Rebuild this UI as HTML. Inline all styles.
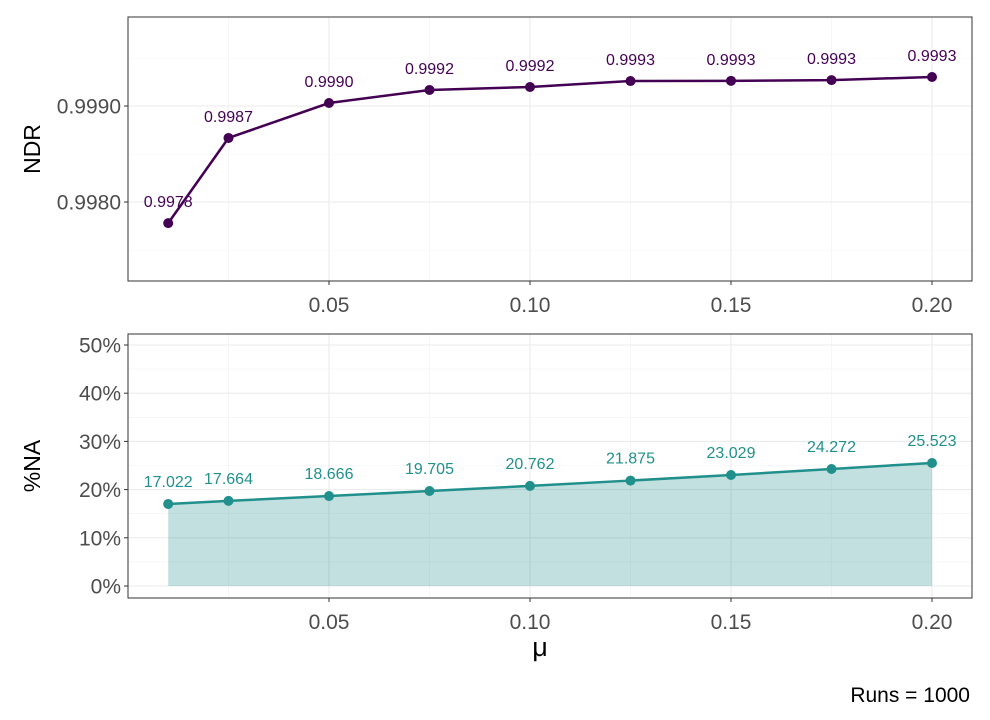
<!DOCTYPE html>
<html><head><meta charset="utf-8"><style>
body{margin:0;background:#fff;font-family:"Liberation Sans",sans-serif}
</style></head><body>
<svg width="990" height="715" xmlns="http://www.w3.org/2000/svg" font-family="Liberation Sans, sans-serif">
<g id="top"></g>
<g id="bot"></g>
<text x="540" y="656" font-size="27" text-anchor="middle">μ</text>
<text x="970" y="702" font-size="21" text-anchor="end">Runs = 1000</text>
</svg>
<script>
const mu=[0.01,0.025,0.05,0.075,0.10,0.125,0.15,0.175,0.20];
const ndr=[0.99778,0.998667,0.999031,0.999167,0.999198,0.999260,0.999262,0.999270,0.999302];
const ndrLabels=["0.9978","0.9987","0.9990","0.9992","0.9992","0.9993","0.9993","0.9993","0.9993"];
const naPct=[17.022,17.664,18.666,19.705,20.762,21.875,23.029,24.272,25.523];
const xTicks=[0.05,0.10,0.15,0.20];
const xTickLabels=["0.05","0.10","0.15","0.20"];
const ndrTicks=[0.998,0.999];
const ndrTickLabels=["0.9980","0.9990"];
const naTicks=[0,10,20,30,40,50];
const NS="http://www.w3.org/2000/svg";
const X=v=>128+v*4020;
function mk(p,t,a){const e=document.createElementNS(NS,t);for(const k in a)e.setAttribute(k,a[k]);p.appendChild(e);return e;}
function panel(g,top,Y,yt,ytl,yMinor,title,col,vals,labels,area){
  const L=128,R=972,T=top,B=top+264;
  [0.025,0.075,0.125,0.175].forEach(v=>mk(g,'line',{x1:X(v),x2:X(v),y1:T,y2:B,stroke:'#f2f2f2','stroke-width':0.6}));
  yMinor.forEach(v=>mk(g,'line',{x1:L,x2:R,y1:Y(v),y2:Y(v),stroke:'#f2f2f2','stroke-width':0.6}));
  xTicks.forEach((v,i)=>{mk(g,'line',{x1:X(v),x2:X(v),y1:T,y2:B,stroke:'#ebebeb','stroke-width':1.1});
    mk(g,'line',{x1:X(v),x2:X(v),y1:B,y2:B+4,stroke:'#333'});
    const t=mk(g,'text',{x:X(v),y:B+31,'font-size':21,fill:'#4d4d4d','text-anchor':'middle'});t.textContent=xTickLabels[i];
    });
  yt.forEach((v,i)=>{mk(g,'line',{x1:L,x2:R,y1:Y(v),y2:Y(v),stroke:'#ebebeb','stroke-width':1.1});
    mk(g,'line',{x1:L-4,x2:L,y1:Y(v),y2:Y(v),stroke:'#333'});
    const t=mk(g,'text',{x:L-7,y:Y(v)+7.5,'font-size':21,fill:'#4d4d4d','text-anchor':'end'});t.textContent=ytl[i];
    });
  if(area){let d='M'+X(mu[0])+','+Y(0);mu.forEach((m,i)=>d+='L'+X(m)+','+Y(vals[i]));d+='L'+X(mu[mu.length-1])+','+Y(0)+'Z';
    const a=mk(g,'path',{d:d,fill:col,'fill-opacity':0.28});}
  const pl=mk(g,'polyline',{points:mu.map((m,i)=>X(m)+','+Y(vals[i])).join(' '),fill:'none',stroke:col,'stroke-width':2.5});
  
  mu.forEach((m,i)=>{const c=mk(g,'circle',{cx:X(m),cy:Y(vals[i]),r:5,fill:col});
    
    const t=mk(g,'text',{x:X(m),y:Y(vals[i])-(area?17:16),'font-size':16,fill:col,'text-anchor':'middle'});t.textContent=labels[i];
    });
  mk(g,'rect',{x:L,y:T,width:R-L,height:B-T,fill:'none',stroke:'#333','stroke-width':1});
  const tt=mk(g,'text',{x:0,y:0,'font-size':23,'text-anchor':'middle',transform:`translate(40,${(T+B)/2}) rotate(-90)`});tt.textContent=title;
  
}
const Yt=v=>106-(v-0.999)*96000;
panel(document.getElementById('top'),17,Yt,ndrTicks,ndrTickLabels,[0.9975,0.9985,0.9995],'NDR','#440154',ndr,ndrLabels,false);
const Yb=v=>586-v*4.82;
panel(document.getElementById('bot'),334,Yb,naTicks,naTicks.map(v=>v+'%'),[5,15,25,35,45],'%NA','#21908c',naPct,naPct.map(v=>v.toFixed(3)),true);
</script>
</body></html>
